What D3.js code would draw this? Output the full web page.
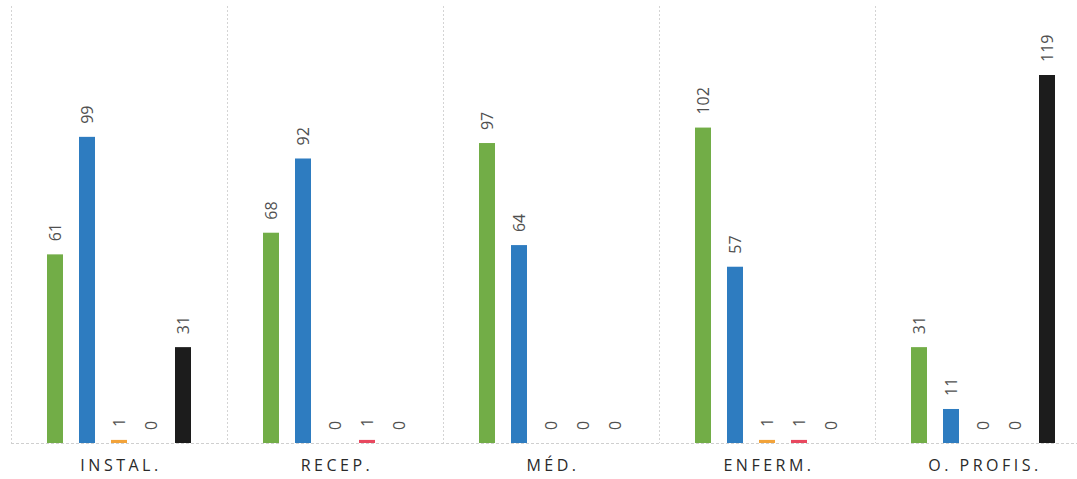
<!DOCTYPE html>
<html><head><meta charset="utf-8">
<script src="https://cdn.jsdelivr.net/npm/d3@7"></script>
<style>body{margin:0;background:#fff}svg{display:block}</style>
</head><body><svg id="c" width="1077" height="479"></svg>
<script>
const categories = ["INSTAL.", "RECEP.", "MÉD.", "ENFERM.", "O. PROFIS."];
const series = ["s1", "s2", "s3", "s4", "s5"];
const colors = ["#72ad47", "#2e7cc0", "#f2a33a", "#e8485f", "#1c1c1c"];
const values = [
  [61, 99, 1, 0, 31],
  [68, 92, 0, 1, 0],
  [97, 64, 0, 0, 0],
  [102, 57, 1, 1, 0],
  [31, 11, 0, 0, 119]
];

const svg = d3.select("#c");
const baseY = 443;
const x0 = d3.scaleBand().domain(categories).range([11, 1091]).padding(0);
const x1 = d3.scaleBand().domain(series).range([0, 160]).paddingInner(0.5).paddingOuter(0.25);
const y = d3.scaleLinear().domain([0, 119]).range([baseY, 75]);

// dividers
svg.append("g").selectAll("line").data(categories).join("line")
  .attr("x1", d => x0(d) + 0.5).attr("x2", d => x0(d) + 0.5)
  .attr("y1", 6).attr("y2", baseY)
  .attr("stroke", "#d4d4d4").attr("stroke-width", 1).attr("stroke-dasharray", "2,2");

svg.append("line").attr("x1", 11).attr("x2", 1077).attr("y1", baseY + 0.5).attr("y2", baseY + 0.5)
  .attr("stroke", "#cfcfcf").attr("stroke-dasharray", "3,2");

const groups = svg.append("g").selectAll("g").data(categories).join("g")
  .attr("transform", d => `translate(${x0(d) + x0.bandwidth() / 2 - 80},0)`);

groups.selectAll("rect").data((d, i) => values[i].map((v, j) => ({v, j})))
  .join("rect")
  .attr("x", d => x1(series[d.j]))
  .attr("width", x1.bandwidth())
  .attr("y", d => d.v > 0 ? y(d.v) : baseY)
  .attr("height", d => d.v > 0 ? baseY - y(d.v) : 0)
  .attr("fill", d => colors[d.j]);

groups.selectAll("text").data((d, i) => values[i].map((v, j) => ({v, j})))
  .join("text")
  .attr("transform", d => `translate(${x1(series[d.j]) + x1.bandwidth() / 2},${(d.v > 0 ? y(d.v) : baseY) - 13}) rotate(-90)`)
  .attr("text-anchor", "start")
  .attr("dominant-baseline", "central")
  .attr("font-family", "Open Sans, sans-serif")
  .attr("font-size", 16)
  .attr("fill", "#505050")
  .text(d => d.v);

svg.append("g").selectAll("text").data(categories).join("text")
  .attr("x", d => x0(d) + x0.bandwidth() / 2 + 2)
  .attr("y", 471)
  .attr("text-anchor", "middle")
  .attr("font-family", "Open Sans, sans-serif")
  .attr("font-size", 16)
  .attr("letter-spacing", "3.5px")
  .attr("fill", "#2a2a2a")
  .text(d => d);
</script></body></html>
